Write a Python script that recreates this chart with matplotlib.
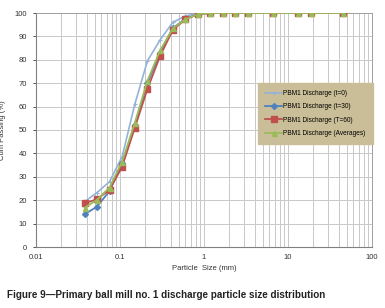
import matplotlib
matplotlib.use("Agg")
import matplotlib.pyplot as plt
from matplotlib.ticker import FixedLocator, NullFormatter, LogLocator

sizes = [0.038, 0.053, 0.075, 0.106, 0.15, 0.212, 0.3, 0.425, 0.6, 0.85,
         1.18, 1.7, 2.36, 3.35, 6.7, 13.2, 19.0, 45.0]
t0 = [19.4, 23.2, 27.9, 38.6, 61.0, 79.5, 88.5, 96.0, 98.7, 99.9,
      100, 100, 100, 100, 100, 100, 100, 100]
t30 = [14.0, 17.2, 23.9, 35.8, 52.0, 70.0, 83.0, 93.5, 97.5, 99.5,
       100, 100, 100, 100, 100, 100, 100, 100]
t60 = [18.7, 20.4, 24.4, 34.3, 50.9, 67.5, 81.6, 92.7, 97.3, 99.5,
       100, 100, 100, 100, 100, 100, 100, 100]
avg = [16.8, 20.1, 25.4, 36.5, 53.0, 71.0, 84.0, 93.4, 97.3, 99.5,
       100, 100, 100, 100, 100, 100, 100, 100]
labels = ["PBM1 Discharge (t=0)", "PBM1 Discharge (t=30)",
          "PBM1 Discharge (T=60)", "PBM1 Discharge (Averages)"]
xticks = [0.01, 0.1, 1, 10, 100]
xticklabels = ["0.01", "0.1", "1", "10", "100"]
yticks = list(range(0, 101, 10))

plt.rcParams['font.family'] = ['Liberation Sans', 'DejaVu Sans']

fig = plt.figure(figsize=(3.85, 3.08), dpi=100)
ax = fig.add_axes([36/385, 1 - 247/308, (372-36)/385, (247-13)/308])

ax.plot(sizes, t0, color="#95B3D7", lw=1.2, marker="+", ms=3.5, mew=0.8, label=labels[0], zorder=3)
ax.plot(sizes, t30, color="#4F81BD", lw=1.3, marker="D", ms=3, label=labels[1], zorder=3)
ax.plot(sizes, t60, color="#C0504D", lw=1.3, marker="s", ms=4.2, label=labels[2], zorder=4)
ax.plot(sizes, avg, color="#9BBB59", lw=1.3, marker="^", ms=3.6, label=labels[3], zorder=5)

ax.set_xscale("log")
ax.set_xlim(0.01, 100)
ax.set_ylim(0, 100)
ax.xaxis.set_major_locator(FixedLocator(xticks))
ax.set_xticklabels(xticklabels)
ax.xaxis.set_minor_locator(LogLocator(base=10, subs=range(2, 10)))
ax.xaxis.set_minor_formatter(NullFormatter())
ax.set_yticks(yticks)
ax.grid(True, which="both", axis="x", color="#C8C8C8", lw=0.7)
ax.grid(True, which="major", axis="y", color="#C8C8C8", lw=0.7)
ax.set_axisbelow(True)
ax.tick_params(axis="both", labelsize=5.5, colors="#333333")
ax.tick_params(axis="x", which="both", length=0, pad=5)
ax.tick_params(axis="y", length=2.5, width=0.6, pad=4)
for side in ["top", "right"]:
    ax.spines[side].set_color("#A0A0A0")
    ax.spines[side].set_linewidth(0.7)
for side in ["left", "bottom"]:
    ax.spines[side].set_color("#808080")
    ax.spines[side].set_linewidth(0.8)

ax.set_xlabel("Particle  Size (mm)", fontsize=5.5, color="#333333", labelpad=3)
ax.set_ylabel("Cum Passing (%)", fontsize=5.5, color="#333333", labelpad=6)

leg = ax.legend(loc="upper left", bbox_to_anchor=((258-36)/336, (247-83)/234),
                fontsize=4.7, frameon=True, fancybox=False, handlelength=2.6,
                borderpad=1.1, labelspacing=0.95, handletextpad=0.2,
                borderaxespad=0)
leg.get_frame().set_facecolor("#C9BE97")
leg.get_frame().set_edgecolor("#C9BE97")
leg.get_frame().set_alpha(1)

fig.text(7/385, 1 - 295/308, "Figure 9\u2014Primary ball mill no. 1 discharge particle size distribution",
         fontsize=7.1, fontweight="bold", color="#222222", va="center", ha="left")

fig.savefig("out.png", dpi=100)
